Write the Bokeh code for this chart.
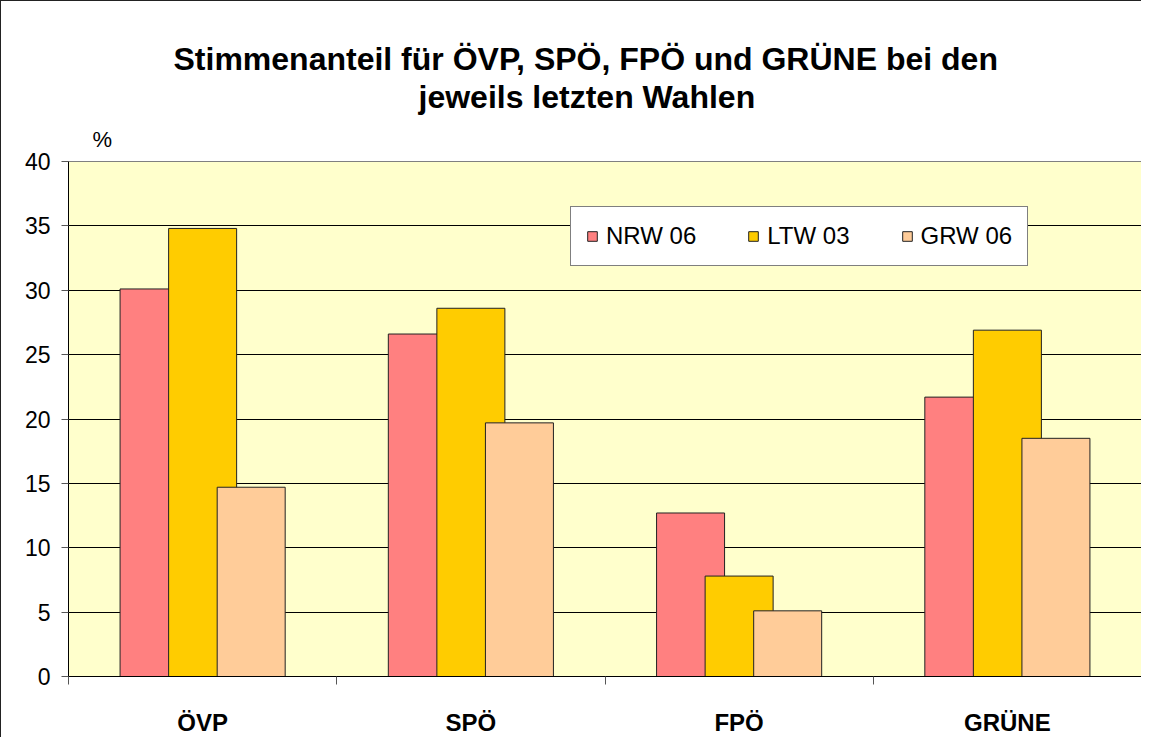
from bokeh.plotting import figure
from bokeh.models import Title, Legend, LegendItem, FixedTicker, ColumnDataSource, Range1d
from bokeh.embed import file_html
from bokeh.resources import INLINE

parties = ["ÖVP", "SPÖ", "FPÖ", "GRÜNE"]
series = ["NRW 06", "LTW 03", "GRW 06"]
nrw06 = [30.1, 26.6, 12.7, 21.7]
ltw03 = [34.8, 28.6, 7.8, 26.9]
grw06 = [14.7, 19.7, 5.1, 18.5]
y_ticks = [0, 5, 10, 15, 20, 25, 30, 35, 40]
title_lines = ["Stimmenanteil für ÖVP, SPÖ, FPÖ und GRÜNE bei den", "jeweils letzten Wahlen"]
y_unit = "%"

colors = ["#FF8080", "#FFCC00", "#FFCC99"]
offsets = [-0.181, 0.0, 0.181]
bar_w = 0.2535
FONT = "Liberation Sans"

p = figure(width=1141, height=737, x_range=Range1d(0, len(parties)), y_range=Range1d(0, 40),
           output_backend="svg", toolbar_location=None,
           min_border_left=67, min_border_right=1, min_border_top=160, min_border_bottom=54)
p.styles = {"border-left": "1px solid #222222", "border-top": "1px solid #222222"}
p.background_fill_color = "#FFFFCC"
p.border_fill_color = "white"
p.outline_line_color = "#808080"
p.outline_line_width = 1

renderers = []
for vals, col, off, name in zip([nrw06, ltw03, grw06], colors, offsets, series):
    src = ColumnDataSource(dict(x=[i + 0.5 + off for i in range(len(parties))], top=vals))
    r = p.vbar(x="x", top="top", width=bar_w, bottom=0, source=src,
               fill_color=col, line_color="#222222", line_width=1)
    renderers.append((name, r))

# grid
p.xgrid.visible = False
p.ygrid.ticker = FixedTicker(ticks=y_ticks)
p.ygrid.grid_line_color = "black"
p.ygrid.grid_line_width = 1

# y axis
p.yaxis.ticker = FixedTicker(ticks=y_ticks)
p.yaxis.axis_line_color = "black"
p.yaxis.major_tick_line_color = "#555555"
p.yaxis.major_tick_out = 7
p.yaxis.major_tick_in = 0
p.yaxis.minor_tick_line_color = None
p.yaxis.major_label_text_font = FONT
p.yaxis.major_label_text_font_size = "23px"
p.yaxis.major_label_text_color = "black"
p.yaxis.major_label_standoff = 11

# x axis
p.xaxis.ticker = FixedTicker(ticks=[i + 0.5 for i in range(len(parties))],
                             minor_ticks=list(range(len(parties) + 1)))
p.xaxis.major_label_overrides = {i + 0.5: name for i, name in enumerate(parties)}
p.xaxis.axis_line_color = "black"
p.xaxis.major_tick_line_color = None
p.xaxis.major_tick_out = 0
p.xaxis.major_tick_in = 0
p.xaxis.minor_tick_line_color = "#555555"
p.xaxis.minor_tick_out = 8
p.xaxis.minor_tick_in = 0
p.xaxis.major_label_text_font = FONT
p.xaxis.major_label_text_font_style = "bold"
p.xaxis.major_label_text_font_size = "24px"
p.xaxis.major_label_text_color = "black"
p.xaxis.major_label_standoff = 24

# titles (first added sits closest to the plot frame)
p.add_layout(Title(text=y_unit, align="left", offset=24, standoff=20,
                   text_font=FONT, text_font_style="normal", text_font_size="22px",
                   text_color="black"), "above")
p.add_layout(Title(text=title_lines[1], align="left", offset=350, standoff=-1,
                   text_font=FONT, text_font_style="bold", text_font_size="32px",
                   text_color="black"), "above")
p.add_layout(Title(text=title_lines[0], align="left", offset=105, standoff=2,
                   text_font=FONT, text_font_style="bold", text_font_size="32px",
                   text_color="black"), "above")

legend = Legend(items=[LegendItem(label=n, renderers=[r]) for n, r in renderers],
                location=(502, 410), orientation="horizontal",
                label_text_font=FONT, label_text_font_size="24px", label_text_color="black",
                glyph_width=12, glyph_height=12, label_standoff=8, spacing=51,
                padding=15, margin=0,
                border_line_color="black", border_line_width=1,
                background_fill_color="white", background_fill_alpha=1.0)
p.add_layout(legend)

open("out.html", "w").write(file_html(p, INLINE))
